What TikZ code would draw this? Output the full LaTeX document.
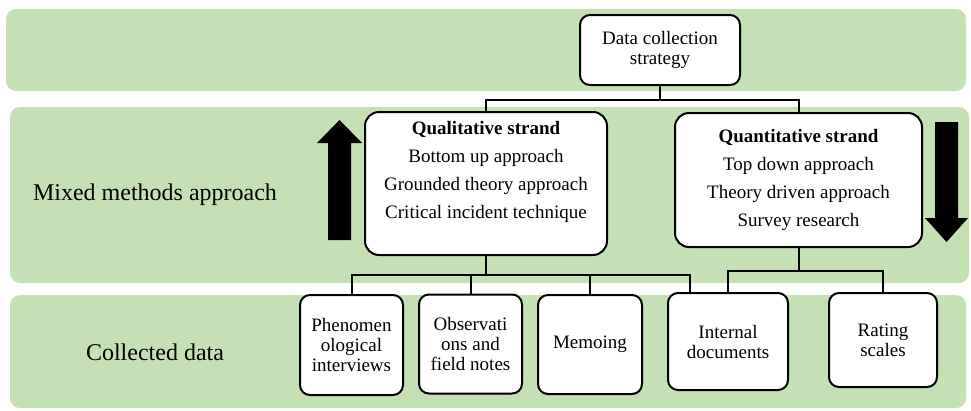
\documentclass[tikz,border=0pt]{standalone}
\usepackage{fontspec}
\setmainfont{Liberation Serif}
\usetikzlibrary{positioning}
\definecolor{bandgreen}{RGB}{197,224,180}

\tikzset{
    band/.style={fill=bandgreen, rounded corners=10pt},
    strandbox/.style={
        draw,
        fill=white,
        line width=2pt,
        rounded corners=14pt,
        align=center,
        inner sep=0pt,
        font=\fontsize{19}{28}\selectfont
    },
    databox/.style={
        draw,
        fill=white,
        line width=2pt,
        rounded corners=10pt,
        align=center,
        inner sep=0pt,
        font=\fontsize{19}{20}\selectfont
    },
    link/.style={line width=2pt},
    bandlabel/.style={font=\fontsize{24}{28}\selectfont}
}

\begin{document}
\begin{tikzpicture}[x=1pt, y=-1pt]
    \useasboundingbox (0,0) rectangle (971,410);

    % background bands
    \fill[band] (6,9) rectangle (966,91);
    \fill[band] (10,107) rectangle (969,283);
    \fill[band] (10,295) rectangle (966,408);

    \node[bandlabel] (mixed) at (155,195) {Mixed methods approach};
    \node[bandlabel] (collected) at (155,352) {Collected data};

    % top level
    \node[databox, minimum width=160pt, minimum height=70pt] (strategy) at (660,50) {Data collection\\strategy};

    % strands
    \node[strandbox, minimum width=242pt, minimum height=143pt] (qual) at (486,183.5) {
        \textbf{Qualitative strand}\\
        Bottom up approach\\
        Grounded theory approach\\
        Critical incident technique\\
        \mbox{}
    };
    \node[strandbox, minimum width=247pt, minimum height=134pt] (quant) at (798.5,180) {
        \textbf{Quantitative strand}\\
        Top down approach\\
        Theory driven approach\\
        Survey research
    };

    % direction arrows
    \fill (328,240) -- (328,143) -- (317,143) -- (339.5,120) -- (362,143) -- (351,143) -- (351,240) -- cycle;
    \fill (935,122) -- (935,218) -- (925,218) -- (946.5,242) -- (968,218) -- (958,218) -- (958,122) -- cycle;

    % collected data
    \node[databox, minimum width=103pt, minimum height=100pt] (phen) at (351.5,345) {Phenomen\\ological\\interviews};
    \node[databox, minimum width=103pt, minimum height=99pt] (observ) at (470.5,344) {Observati\\ons and\\field notes};
    \node[databox, minimum width=104pt, minimum height=99pt] (memo) at (590,344.5) {Memoing};
    \node[databox, minimum width=120pt, minimum height=97pt] (intdoc) at (728,341.5) {Internal\\documents};
    \node[databox, minimum width=108pt, minimum height=94pt] (rating) at (883,340) {Rating\\scales};

    % connectors
    \draw[link] (strategy.south) -- ++(0,14) -| (qual.north);
    \draw[link] (strategy.south) -- ++(0,14) -| (quant.north);

    \draw[link] (qual.south) -- ++(0,19) -| (phen.north);
    \draw[link] (qual.south) -- ++(0,19) -| (observ.north);
    \draw[link] (qual.south) -- ++(0,19) -| (memo.north);
    \draw[link] (qual.south) -- ++(0,19) -| ([xshift=23pt]intdoc.north west);

    \draw[link] (quant.south) -- ++(0,23) -| (intdoc.north);
    \draw[link] (quant.south) -- ++(0,23) -| (rating.north);
\end{tikzpicture}
\end{document}
